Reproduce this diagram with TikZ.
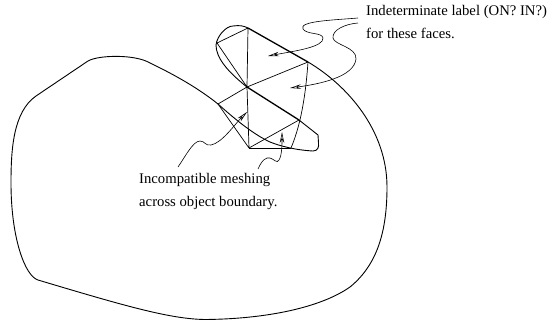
\documentclass[tikz,border=0pt]{standalone}
\usepackage{fontspec}
\setmainfont{Liberation Serif}
\usetikzlibrary{arrows.meta}
\tikzset{
 outline/.style={line width=0.9pt,line join=round},
 edge/.style={line width=0.7pt,line join=round},
 heavy/.style={line width=1.3pt},
 pointer/.style={line width=0.6pt,-{Stealth[length=11pt,width=4.5pt,open,inset=3.5pt]}},
 lbl/.style={anchor=base west,inner sep=0pt,font=\fontsize{14.7}{16}\selectfont}
}
\begin{document}
\begin{tikzpicture}[x=1pt,y=-1pt]
\useasboundingbox (0,0) rectangle (549,324);
\coordinate (A) at (248,28);
\coordinate (B) at (217,43);
\coordinate (C) at (247,87);
\coordinate (D) at (308,62);
\coordinate (E) at (218,104);
\coordinate (F) at (299,120);
\coordinate (G) at (249,148);
\coordinate (H) at (291,148);
% outline
\draw[outline] (D) .. controls (347,85) and (387,130) .. (387,187)
 .. controls (387,232) and (377,265) .. (350,287)
 .. controls (320,308) and (265,319) .. (205,319.5)
 .. controls (170,319) and (125,306) .. (38,280)
 .. controls (25,276) and (11,238) .. (11,183)
 .. controls (11,150) and (13,112) .. (36,96)
 -- (88,61)
 .. controls (98,55) and (135,54) .. (150,63)
 .. controls (175,75) and (198,88) .. (E)
 .. controls (238,122) and (255,135) .. (270,142)
 .. controls (280,146) and (295,150) .. (313,151)
 .. controls (318,151) and (319,147) .. (318.5,143)
 -- (318,135) -- (F);
\draw[outline] (C) .. controls (228,72) and (216,58) .. (216,45)
 .. controls (217,36) and (226,26) .. (233,26)
 .. controls (240,25) and (244,26) .. (A);
\draw[heavy] (A) -- (D);
\draw[heavy] (C) -- (F);
% mesh
\draw[edge] (A) -- (B) -- (C) -- (A);
\draw[edge] (C) -- (D);
\draw[edge] (D) .. controls (306,90) and (302,122) .. (H);
\draw[edge] (C) -- (E) -- (G) -- (C);
\draw[edge] (G) -- (F);
\draw[edge] (G) -- (H);
% text
\node[lbl] (t1) at (366,15) {Indeterminate label (ON? IN?)};
\node[lbl] (t2) at (366,38) {for these faces.};
\node[lbl] (t3) at (139,183) {Incompatible meshing};
\node[lbl] (t4) at (139,206) {across object boundary.};
\coordinate (p1) at (358,18);
\coordinate (p2) at (358,23);
\coordinate (p3) at (178,167);
\coordinate (p4) at (258,169);
\coordinate (h1) at (268,56);
\coordinate (h2) at (290,88);
\coordinate (h3) at (247,112);
\coordinate (h4) at (282,132);
\draw[pointer] (p1) .. controls (335,20) and (298,21) .. (303,29) .. controls (307,35) and (322,32) .. (323,38) .. controls (324,47) and (295,51) .. (h1);
\draw[pointer] (p2) .. controls (345,24) and (332,30) .. (333,38) .. controls (334,45) and (357,47) .. (356,59) .. controls (354,77) and (320,84) .. (h2);
\draw[pointer] (p3) .. controls (185,157) and (193,141) .. (200,141) .. controls (205,141) and (205,146) .. (211,145) .. controls (222,143) and (235,124) .. (h3);
\draw[pointer] (p4) .. controls (262,160) and (266,157) .. (270,158) .. controls (274,159) and (277,164) .. (279,160) .. controls (282,155) and (282,145) .. (h4);
\end{tikzpicture}
\end{document}
